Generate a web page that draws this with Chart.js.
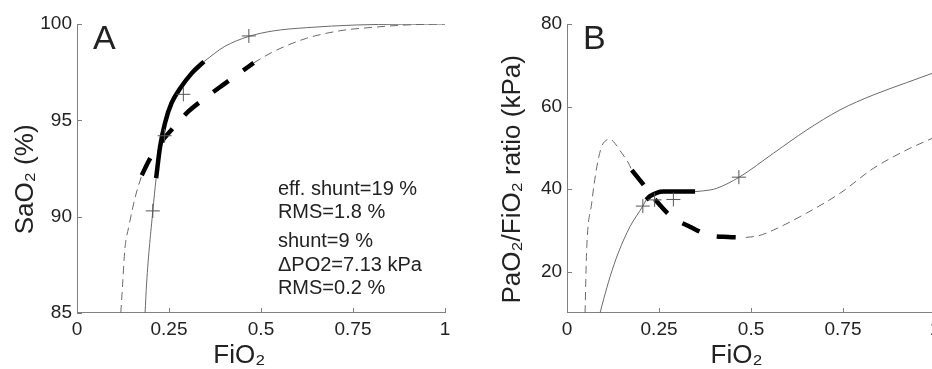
<!DOCTYPE html>
<html>
<head>
<meta charset="utf-8">
<script src="https://cdn.jsdelivr.net/npm/chart.js@4.4.1/dist/chart.umd.min.js"></script>
<style>
  html, body { margin: 0; padding: 0; background: #fff; overflow: hidden; }
  #wrapA { position: absolute; left: 0; top: 0; }
  #wrapB { position: absolute; left: 470px; top: 0; }
</style>
</head>
<body>
<div id="wrapA"><canvas id="chartA" width="470" height="369"></canvas></div>
<div id="wrapB"><canvas id="chartB" width="490" height="369"></canvas></div>
<script>
// axis ticks
const xTicks = [0, 0.25, 0.5, 0.75, 1];
const yTicksA = [85, 90, 95, 100];
const yTicksB = [20, 40, 60, 80];

// measured points (+)
const fio2Meas = [0.206, 0.238, 0.289, 0.467];
const sao2Meas = [90.3, 94.2, 96.35, 99.38];
const pfMeas = [35.9, 37.4, 37.5, 42.9];

// A: shunt + dPO2 model (solid)
const fio2A_solidLow = [0.185, 0.189, 0.206, 0.215];
const sao2A_solidLow = [85.0, 86.5, 90.3, 92.0];
const fio2A_solidFit = [0.215, 0.2255, 0.239, 0.257, 0.280, 0.312, 0.345];
const sao2A_solidFit = [92.0, 93.6, 94.85, 95.9, 96.65, 97.45, 98.05];
const fio2A_solidHigh = [0.345, 0.40, 0.466, 0.533, 0.624, 0.76, 0.88, 1.0];
const sao2A_solidHigh = [98.05, 98.82, 99.35, 99.64, 99.81, 99.95, 99.99, 100];

// A: effective shunt model (dashed)
const fio2A_dashLow = [0.119, 0.124, 0.130, 0.141, 0.158, 0.176];
const sao2A_dashLow = [85.0, 86.5, 88.3, 89.5, 91.0, 92.15];
const fio2A_dashFit = [0.176, 0.198, 0.234, 0.266, 0.302, 0.348, 0.394, 0.434, 0.48];
const sao2A_dashFit = [92.15, 93.0, 94.0, 94.7, 95.45, 96.15, 96.8, 97.35, 97.98];
const fio2A_dashHigh = [0.48, 0.533, 0.624, 0.715, 0.805, 0.896, 1.0];
const sao2A_dashHigh = [97.98, 98.56, 99.26, 99.65, 99.83, 99.95, 100];

// B: shunt + dPO2 model (solid)
const fio2B_solidLow = [0.0897, 0.10, 0.117, 0.139, 0.171, 0.206, 0.215];
const pfB_solidLow = [10, 13.5, 18.8, 24.5, 30.9, 35.9, 37.4];
const fio2B_solidFit = [0.215, 0.2255, 0.2437, 0.2617, 0.30, 0.348];
const pfB_solidFit = [37.4, 38.3, 39.1, 39.4, 39.4, 39.4];
const fio2B_solidHigh = [0.348, 0.389, 0.407, 0.468, 0.561, 0.651, 0.742, 0.832, 0.923, 1.0];
const pfB_solidHigh = [39.4, 39.8, 40.2, 42.9, 48.7, 54.3, 59.2, 62.8, 65.8, 68.3];

// B: effective shunt model (dashed)
const fio2B_dashLow = [0.049, 0.053, 0.067, 0.081, 0.094, 0.108, 0.117, 0.130, 0.149, 0.167, 0.176];
const pfB_dashLow = [10, 24.5, 36.6, 45.4, 50.3, 51.9, 52.1, 51.1, 48.7, 46.3, 44.6];
const fio2B_dashFit = [0.176, 0.212, 0.244, 0.284, 0.334, 0.384, 0.438, 0.486];
const pfB_dashFit = [44.6, 40.6, 37.0, 33.3, 30.9, 28.9, 28.4, 28.3];
const fio2B_dashHigh = [0.486, 0.52, 0.561, 0.651, 0.742, 0.832, 0.923, 1.0];
const pfB_dashHigh = [28.3, 28.7, 30.1, 34.2, 39.0, 45.0, 49.5, 52.6];

// text in panel A
const notesA = ['eff. shunt=19 %', 'RMS=1.8 %', 'shunt=9 %', '\u0394PO2=7.13 kPa', 'RMS=0.2 %'];

const FONT = "'Liberation Sans', Arial, Helvetica, sans-serif";
Chart.defaults.font.family = FONT;
Chart.defaults.color = '#222';

function pts(xs, ys) {
    return xs.map((x, i) => ({ x: x, y: ys[i] }));
}

function thinLine(xs, ys, dashed) {
    return {
        data: pts(xs, ys),
        showLine: true,
        borderColor: '#6a6a6a',
        borderWidth: 1,
        borderDash: dashed ? [8, 5] : [],
        pointRadius: 0,
        cubicInterpolationMode: 'monotone',
        fill: false
    };
}

function thickLine(xs, ys, dashed) {
    return {
        data: pts(xs, ys),
        showLine: true,
        borderColor: '#000',
        borderWidth: 4.5,
        borderDash: dashed ? [19, 18] : [],
        borderCapStyle: 'butt',
        pointRadius: 0,
        cubicInterpolationMode: 'monotone',
        fill: false
    };
}

function crosses(xs, ys) {
    return {
        data: pts(xs, ys),
        showLine: false,
        pointStyle: 'cross',
        pointRadius: 7,
        pointHoverRadius: 7,
        borderColor: '#555',
        borderWidth: 1,
        backgroundColor: 'rgba(0,0,0,0)'
    };
}

// MATLAB style ticks pointing into the plot
const inwardTicks = {
    id: 'inwardTicks',
    afterDraw(chart) {
        const ctx = chart.ctx;
        const area = chart.chartArea;
        const sx = chart.scales.x, sy = chart.scales.y;
        ctx.save();
        ctx.strokeStyle = '#808080';
        ctx.lineWidth = 1;
        sx.ticks.forEach(t => {
            const px = Math.round(sx.getPixelForValue(t.value)) + 0.5;
            ctx.beginPath();
            ctx.moveTo(px, area.bottom);
            ctx.lineTo(px, area.bottom - 5);
            ctx.stroke();
        });
        sy.ticks.forEach(t => {
            const py = Math.round(sy.getPixelForValue(t.value)) + 0.5;
            ctx.beginPath();
            ctx.moveTo(area.left, py);
            ctx.lineTo(area.left + 5, py);
            ctx.stroke();
        });
        ctx.restore();
    }
};

// panel letter and notes, placed in data units
const panelText = {
    id: 'panelText',
    afterDraw(chart, args, opts) {
        const ctx = chart.ctx;
        const sx = chart.scales.x, sy = chart.scales.y;
        ctx.save();
        ctx.fillStyle = '#222';
        ctx.textBaseline = 'alphabetic';
        ctx.textAlign = 'left';
        ctx.font = '34px ' + FONT;
        ctx.fillText(opts.letter, sx.getPixelForValue(opts.letterAt[0]), sy.getPixelForValue(opts.letterAt[1]));
        if (opts.lines) {
            ctx.font = '20px ' + FONT;
            opts.lines.forEach((s, i) => {
                ctx.fillText(s, sx.getPixelForValue(opts.linesX), sy.getPixelForValue(opts.linesY[i]));
            });
        }
        ctx.restore();
    }
};

function makeScales(yMin, yMax, yTicks, yTitle, yTitlePad, xTitle) {
    return {
        x: {
            type: 'linear',
            min: 0,
            max: 1,
            afterBuildTicks: s => { s.ticks = xTicks.map(v => ({ value: v })); },
            ticks: { font: { size: 19, lineHeight: 1.2 }, padding: 5, color: '#222', callback: v => String(v), autoSkip: false, maxRotation: 0 },
            grid: { display: false, drawTicks: false },
            border: { display: true, color: '#808080', width: 1 },
            title: { display: true, text: xTitle, font: { size: 26, lineHeight: 0.785 }, padding: { top: 0, bottom: 2.8 }, color: '#222' }
        },
        y: {
            type: 'linear',
            min: yMin,
            max: yMax,
            afterBuildTicks: s => { s.ticks = yTicks.map(v => ({ value: v })); },
            ticks: { font: { size: 19, lineHeight: 1.2 }, padding: 5, color: '#222', callback: v => String(v), autoSkip: false },
            grid: { display: false, drawTicks: false },
            border: { display: true, color: '#808080', width: 1 },
            title: { display: true, text: yTitle, font: { size: 26, lineHeight: 0.7 }, padding: yTitlePad, color: '#222' }
        }
    };
}

new Chart(document.getElementById('chartA'), {
    type: 'scatter',
    data: {
        datasets: [
            crosses(fio2Meas, sao2Meas),
            thickLine(fio2A_solidFit, sao2A_solidFit, false),
            thickLine(fio2A_dashFit, sao2A_dashFit, true),
            thinLine(fio2A_solidLow, sao2A_solidLow, false),
            thinLine(fio2A_solidHigh, sao2A_solidHigh, false),
            thinLine(fio2A_dashLow, sao2A_dashLow, true),
            thinLine(fio2A_dashHigh, sao2A_dashHigh, true)
        ]
    },
    options: {
        responsive: false,
        animation: false,
        layout: { padding: { left: 17.1, top: 24, right: 25, bottom: 0 } },
        plugins: {
            legend: { display: false },
            tooltip: { enabled: false },
            panelText: {
                letter: 'A', letterAt: [0.0435, 98.7],
                lines: notesA, linesX: 0.546, linesY: [91.13, 89.92, 88.44, 87.2, 85.99]
            }
        },
        scales: makeScales(85, 100, yTicksA, 'SaO\u2082 (%)\u00a0\u00a0\u00a0', { top: 0, bottom: 0 }, 'FiO\u2082\u00a0\u00a0\u00a0\u00a0\u00a0\u00a0')
    },
    plugins: [inwardTicks, panelText]
});

new Chart(document.getElementById('chartB'), {
    type: 'scatter',
    data: {
        datasets: [
            crosses(fio2Meas, pfMeas),
            thickLine(fio2B_solidFit, pfB_solidFit, false),
            thickLine(fio2B_dashFit, pfB_dashFit, true),
            thinLine(fio2B_solidLow, pfB_solidLow, false),
            thinLine(fio2B_solidHigh, pfB_solidHigh, false),
            thinLine(fio2B_dashLow, pfB_dashLow, true),
            thinLine(fio2B_dashHigh, pfB_dashHigh, true)
        ]
    },
    options: {
        responsive: false,
        animation: false,
        layout: { padding: { left: 33.4, top: 24, right: 25, bottom: 0 } },
        plugins: {
            legend: { display: false },
            tooltip: { enabled: false },
            panelText: { letter: 'B', letterAt: [0.0435, 73.9] }
        },
        scales: makeScales(10, 80, yTicksB, 'PaO\u2082/FiO\u2082 ratio (kPa)\u00a0\u00a0\u00a0', { top: 0, bottom: 14.3 }, 'FiO\u2082\u00a0\u00a0\u00a0\u00a0')
    },
    plugins: [inwardTicks, panelText]
});
</script>
</body>
</html>
